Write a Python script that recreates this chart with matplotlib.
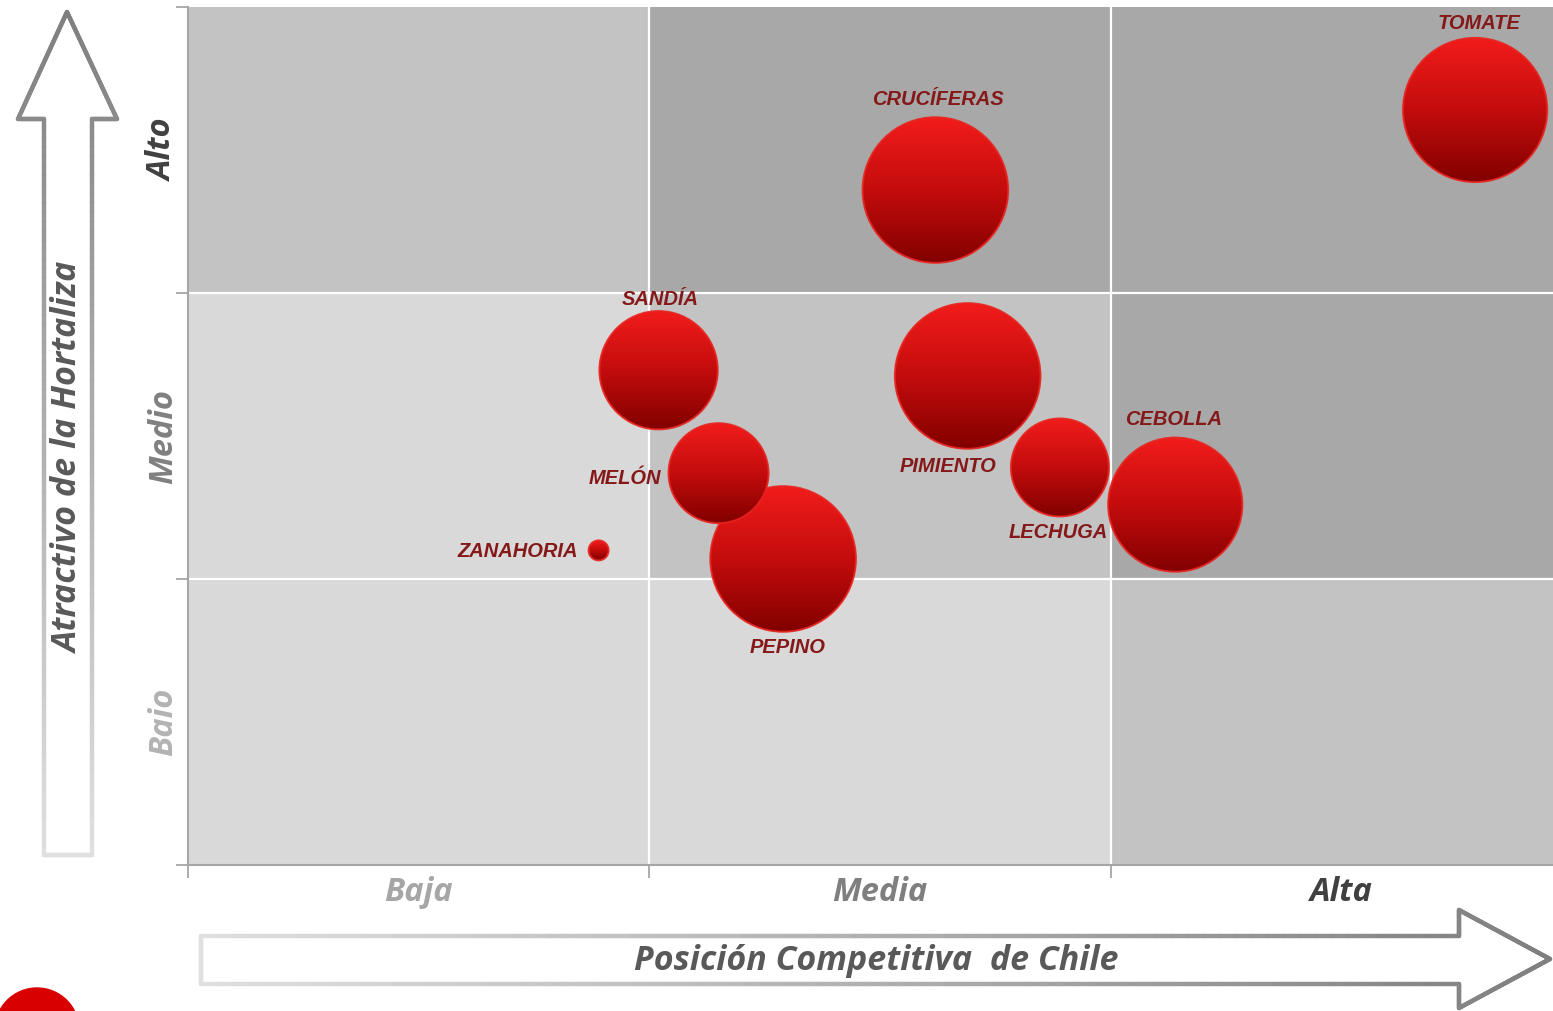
import numpy as np
import matplotlib.pyplot as plt
from matplotlib.colors import LinearSegmentedColormap
from matplotlib.patches import Rectangle, Ellipse, Circle
from matplotlib.collections import LineCollection

# hortalizas: posición competitiva (x), atractivo (y), volumen (tamaño de burbuja)
hortalizas = ['TOMATE', 'CRUCÍFERAS', 'SANDÍA', 'PIMIENTO', 'PEPINO', 'MELÓN',
              'ZANAHORIA', 'LECHUGA', 'CEBOLLA']
posicion = [2.79, 1.62, 1.02, 1.69, 1.29, 1.15, 0.89, 1.89, 2.14]
atractivo = [2.64, 2.36, 1.73, 1.71, 1.07, 1.37, 1.10, 1.39, 1.26]
volumen = [52, 53, 35, 53, 53, 25, 1, 24, 45]

niveles_x = ['Baja', 'Media', 'Alta']
niveles_y = ['Baio', 'Medio', 'Alto']

# desplazamiento de cada etiqueta respecto a su burbuja (pixeles)
desp = {'TOMATE': (4, 86), 'CRUCÍFERAS': (2, 91), 'SANDÍA': (2, 71),
        'PIMIENTO': (-20, -91), 'PEPINO': (4, -89), 'MELÓN': (-94, -5),
        'ZANAHORIA': (-81, -1), 'LECHUGA': (-2, -65), 'CEBOLLA': (-2, 85)}

W, H = 1553, 1011
fig = plt.figure(figsize=(W / 100, H / 100), dpi=100)

fuente_ejes = dict(fontweight='bold', style='italic', family='Open Sans')

# capa de fondo en pixeles para las flechas de los ejes
bg = fig.add_axes([0, 0, 1, 1])
bg.set_xlim(0, W)
bg.set_ylim(H, 0)
bg.axis('off')


def flecha(pts, c0, c1, eje):
    pts = np.array(pts + [pts[0]], float)
    bg.fill(pts[:, 0], pts[:, 1], color='white', zorder=1)
    segs, vals = [], []
    for a, b in zip(pts[:-1], pts[1:]):
        p = a + (b - a) * np.linspace(0, 1, 80)[:, None]
        for i in range(len(p) - 1):
            segs.append(p[i:i + 2])
            vals.append(p[i:i + 2, eje].mean())
    vals = np.array(vals)
    vals = (vals - vals.min()) / (vals.max() - vals.min())
    cm = LinearSegmentedColormap.from_list('f', [c0, c1])
    lc = LineCollection(segs, colors=cm(vals), linewidths=3.2, capstyle='round', zorder=2)
    bg.add_collection(lc)


flecha([(67, 12), (117, 119), (92, 119), (92, 855), (44, 855), (44, 119), (18, 119)],
       '#7f7f7f', '#e0e0e0', 1)
bg.text(69, 458, 'Atractivo de la Hortaliza', rotation=90, ha='center', va='center',
        fontsize=24.5, color='#595959', **fuente_ejes)

flecha([(201, 936), (1459, 936), (1459, 910), (1550, 959), (1459, 1008), (1459, 984), (201, 984)],
       '#e0e0e0', '#7f7f7f', 0)
bg.text(876, 961, 'Posición Competitiva  de Chile', ha='center', va='center',
        fontsize=24.5, color='#595959', **fuente_ejes)

bg.add_patch(Circle((37, 1030), 42, color='#d80000', zorder=2))

# matriz principal
ax = fig.add_axes([188 / W, (H - 865) / H, 1384 / W, 858 / H])
ax.set_xlim(0, 3)
ax.set_ylim(0, 3)

tonos = [['#d9d9d9', '#d9d9d9', '#c3c3c3'],
         ['#d9d9d9', '#c3c3c3', '#a8a8a8'],
         ['#c3c3c3', '#a8a8a8', '#a8a8a8']]
for fila in range(3):
    for col in range(3):
        ax.add_patch(Rectangle((col, fila), 1, 1, color=tonos[fila][col], lw=0, zorder=0))
for v in (1, 2):
    ax.axvline(v, color='white', lw=1.6, zorder=1)
    ax.axhline(v, color='white', lw=1.6, zorder=1)

for s in ('top', 'right'):
    ax.spines[s].set_visible(False)
for s in ('left', 'bottom'):
    ax.spines[s].set_color('#a6a6a6')
    ax.spines[s].set_linewidth(1.5)

ax.set_xticks([0, 1, 2, 3])
ax.set_yticks([0, 1, 2, 3])
ax.set_xticklabels([])
ax.set_yticklabels([])
ax.tick_params(which='major', length=9, width=1.3, color='#a6a6a6')
ax.set_xticks([0.5, 1.5, 2.5], minor=True)
ax.set_yticks([0.5, 1.5, 2.5], minor=True)
ax.set_xticklabels(niveles_x, minor=True, fontsize=23.5, **fuente_ejes)
ax.set_yticklabels(niveles_y, minor=True, fontsize=23.5, rotation=90, va='center', **fuente_ejes)
ax.tick_params(which='minor', length=0)
ax.tick_params(axis='x', which='minor', pad=8)
ax.tick_params(axis='y', which='minor', pad=6)
for t, c in zip(ax.get_xticklabels(minor=True), ['#a6a6a6', '#7f7f7f', '#404040']):
    t.set_color(c)
for t, c in zip(ax.get_yticklabels(minor=True), ['#b3b3b3', '#808080', '#404040']):
    t.set_color(c)

# burbujas con degradado vertical
rojo = LinearSegmentedColormap.from_list('rojo', ['#f21c1c', '#c40c0c', '#820000'])
grad = np.linspace(0, 1, 256).reshape(-1, 1)
px_x = ax.bbox.width / 3
px_y = ax.bbox.height / 3
for i, (nom, x, y, v) in enumerate(zip(hortalizas, posicion, atractivo, volumen)):
    r = 10 * np.sqrt(v)
    w, h = 2 * r / px_x, 2 * r / px_y
    z = 3 + i
    borde = Ellipse((x, y), w, h, fill=False, edgecolor='#e8231e', lw=1.4, alpha=0.9,
                    zorder=z + 0.5)
    ax.add_patch(borde)
    im = ax.imshow(grad, cmap=rojo, extent=[x - w / 2, x + w / 2, y - h / 2, y + h / 2],
                   aspect='auto', origin='upper', zorder=z, interpolation='bilinear')
    im.set_clip_path(borde)
    dx, dy = desp[nom]
    ax.annotate(nom, (x, y), xytext=(dx, dy), textcoords='offset pixels', ha='center',
                va='center', fontsize=14.5, fontweight='bold', style='italic',
                family='Liberation Sans', color='#851818', zorder=20)

ax.set_xlim(0, 3)
ax.set_ylim(0, 3)

fig.savefig('out.png', dpi=100)
